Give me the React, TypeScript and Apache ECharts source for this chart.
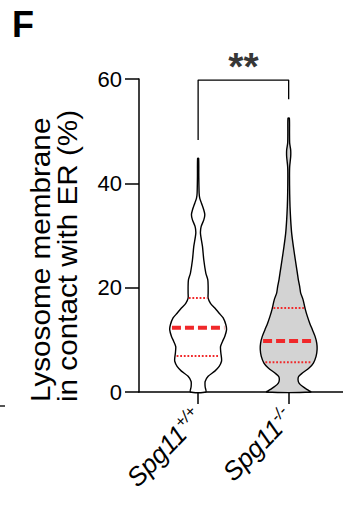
import React, { useEffect, useRef } from 'react';
import * as echarts from 'echarts';

// ---- data ----
const groupNames = ['Spg11', 'Spg11'];
const groupSups = ['+/+', '-/-'];
const yTicks = [0, 20, 40, 60];

// violin outlines: level (% contact) and relative density (half width)
const wtLevels = [0, 1.0, 2.0, 3.0, 4.0, 4.9, 5.9, 6.5, 7.5, 8.7, 9.7, 10.7, 11.9, 12.9, 14.2, 15.1, 16.1, 17.0, 18.0, 19.0, 20.2, 21.5, 22.8, 25.3, 27.9, 30.4, 31.7, 33.0, 34.0, 34.9, 36.2, 37.1, 38.1, 41.3, 44.8];
const wtDensity = [23, 21, 21, 30, 50, 63, 70, 70, 68, 67, 73, 80, 85, 83, 75, 63, 50, 37, 30, 30, 30, 29, 23, 17, 13, 7, 9, 17, 20, 17, 10, 5, 3, 2, 1.5];

const koLevels = [0, 0.45, 1.09, 1.72, 2.36, 3.0, 3.64, 4.6, 5.55, 6.83, 8.1, 9.38, 10.66, 11.94, 13.2, 14.5, 15.8, 17.7, 18.96, 20.2, 21.5, 22.8, 25.3, 27.9, 30.4, 33.0, 35.6, 38.1, 41.3, 43.2, 45.1, 46.4, 47.7, 49.6, 52.5];
const koDensity = [66, 56, 41, 31, 28, 30, 41, 61, 74, 82, 85, 84, 79, 71, 63, 56, 50, 43, 36, 33, 29, 26, 20, 14, 9, 6, 4, 3, 2.5, 3, 6, 6, 3, 2.5, 2];

// [Q1, median, Q3]
const wtQuartiles = [6.9, 12.3, 18.0];
const koQuartiles = [5.7, 9.8, 16.1];

// significance bracket: [x, y] for legs
const bracketPoints = [[1, 48.3], [1, 59.8], [2, 59.8], [2, 56.1]];
const significance = '**';

// ---- styles ----
const DENSITY_SCALE = 1 / 271; // density unit -> x-axis units
const FONT = 'Liberation Sans, Arial, Helvetica, sans-serif';
const RED = '#f0282a';
const FILLS = ['#ffffff', '#d3d3d3'];

const levelsAll = [wtLevels, koLevels];
const densAll = [wtDensity, koDensity];
const quartAll = [wtQuartiles, koQuartiles];

function densityAt(levels: number[], dens: number[], y: number) {
  for (let k = 0; k < levels.length - 1; k++) {
    if (y >= levels[k] && y <= levels[k + 1]) {
      const t = (y - levels[k]) / (levels[k + 1] - levels[k]);
      return dens[k] + t * (dens[k + 1] - dens[k]);
    }
  }
  return 0;
}

export default function App() {
  const ref = useRef<HTMLDivElement>(null);
  useEffect(() => {
    document.body.style.margin = '0';
    const chart = echarts.init(ref.current!, null, { renderer: 'svg' });
    const option: any = {
      animation: false,
      backgroundColor: '#ffffff',
      grid: { left: 139, right: 0, top: 79, bottom: 121, containLabel: false },
      xAxis: {
        type: 'value',
        min: 0.347,
        max: 2.6,
        splitLine: { show: false },
        axisLine: { onZero: false, lineStyle: { color: '#000', width: 1.5 } },
        axisTick: { customValues: [1, 2], length: 12, lineStyle: { color: '#000', width: 1.5 } },
        axisLabel: {
          customValues: [1, 2],
          rotate: 46,
          margin: 21,
          color: '#000',
          formatter: (v: number) => {
            const i = Math.round(v) - 1;
            return `{main|${groupNames[i]}}{sup|${groupSups[i]}}`;
          },
          rich: {
            main: { fontSize: 26, fontStyle: 'italic', fontFamily: FONT, color: '#000', lineHeight: 30 },
            sup: { fontSize: 16, fontStyle: 'italic', fontFamily: FONT, color: '#000', verticalAlign: 'top', lineHeight: 18 },
          },
        },
      },
      yAxis: {
        type: 'value',
        min: 0,
        max: 60,
        interval: 20,
        splitLine: { show: false },
        axisLine: { show: true, onZero: false, lineStyle: { color: '#000', width: 1.5 } },
        axisTick: { show: true, length: 14, lineStyle: { color: '#000', width: 1.5 } },
        axisLabel: {
          margin: 17,
          fontSize: 22,
          fontFamily: FONT,
          color: '#000',
          formatter: (v: number) => (yTicks.includes(v) ? String(v) : ''),
        },
      },
      series: [
        {
          type: 'custom',
          name: 'violins',
          data: [[1], [2]],
          renderItem: (params: any, api: any) => {
            const i = params.dataIndex;
            const xc = i + 1;
            const lv = levelsAll[i];
            const dn = densAll[i];
            const right = lv.map((y, k) => api.coord([xc + dn[k] * DENSITY_SCALE, y]));
            const left = lv.map((y, k) => api.coord([xc - dn[k] * DENSITY_SCALE, y])).reverse();
            return {
              type: 'polygon',
              shape: { points: right.concat(left), smooth: 0.25 },
              style: { fill: FILLS[i], stroke: '#000', lineWidth: 1.4 },
            };
          },
          z: 2,
        },
        {
          type: 'custom',
          name: 'quartiles',
          data: [[1], [2]],
          renderItem: (params: any, api: any) => {
            const i = params.dataIndex;
            const xc = i + 1;
            const children = quartAll[i].map((q, k) => {
              const d = densityAt(levelsAll[i], densAll[i], q) * DENSITY_SCALE * 0.93;
              const p1 = api.coord([xc - d, q]);
              const p2 = api.coord([xc + d, q]);
              const isMed = k === 1;
              return {
                type: 'line',
                shape: { x1: p1[0], y1: p1[1], x2: p2[0], y2: p2[1] },
                style: {
                  stroke: RED,
                  lineWidth: isMed ? 4 : 2,
                  lineDash: isMed ? [9, 4] : [1.8, 1.8],
                },
              };
            });
            return { type: 'group', children };
          },
          z: 3,
        },
        {
          type: 'line',
          name: 'bracket',
          data: bracketPoints,
          symbol: 'none',
          lineStyle: { color: '#000', width: 1.3 },
          z: 4,
        },
        {
          type: 'scatter',
          name: 'sig',
          data: [[1.5, 59.8]],
          symbolSize: 0,
          label: {
            show: true,
            position: 'top',
            distance: 2,
            offset: [0, 8],
            formatter: () => significance,
            fontSize: 39,
            fontWeight: 'bold',
            fontFamily: FONT,
            color: '#000',
          },
          z: 4,
        },
      ],
      graphic: [
        {
          type: 'text',
          left: 12,
          top: 6,
          style: { text: 'F', fontSize: 36, fontWeight: 'bold', fontFamily: FONT, fill: '#000' },
        },
        {
          type: 'text',
          x: 54,
          y: 402,
          rotation: Math.PI / 2,
          scaleX: 1.1,
          style: {
            text: 'Lysosome membrane\nin contact with ER (%)',
            fontSize: 27,
            lineHeight: 27,
            fontFamily: FONT,
            fill: '#000',
            align: 'left',
            verticalAlign: 'middle',
          },
        },
        {
          type: 'line',
          shape: { x1: 0, y1: 406, x2: 5, y2: 406 },
          style: { stroke: '#555', lineWidth: 2 },
        },
      ],
    };
    chart.setOption(option);
    return () => chart.dispose();
  }, []);
  return <div ref={ref} style={{ width: 343, height: 513, position: 'absolute', left: 0, top: 0 }} />;
}
